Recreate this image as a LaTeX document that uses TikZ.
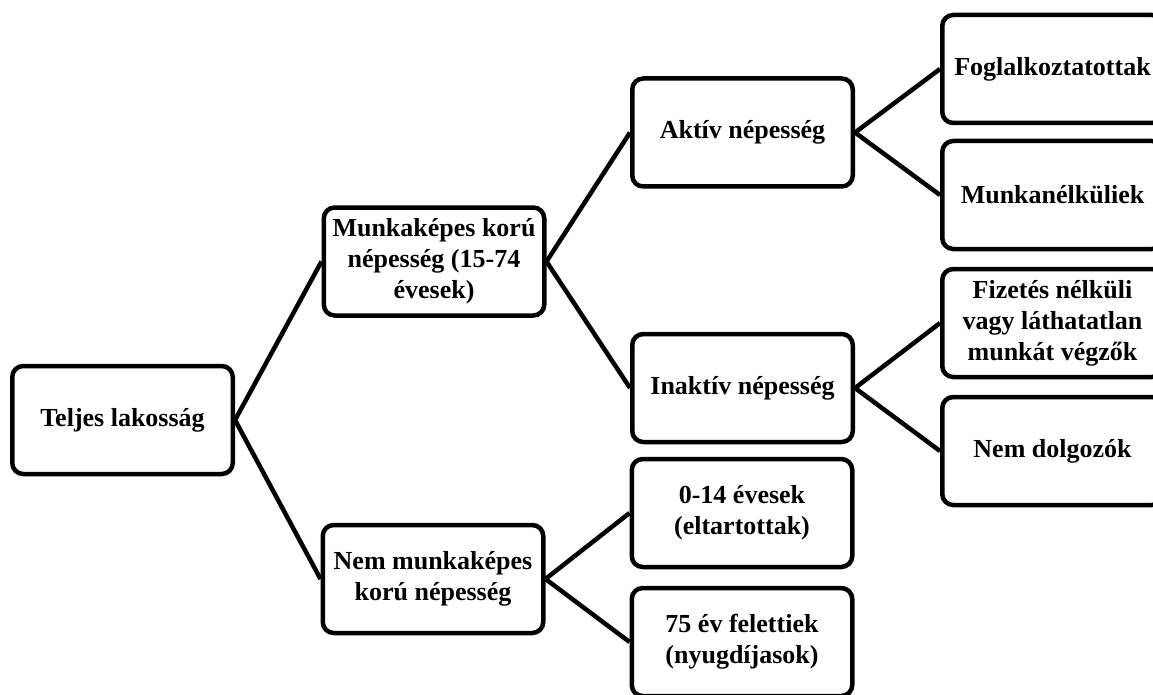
\documentclass[tikz,border=0pt]{standalone}
\usepackage{fontspec}
\setmainfont{Liberation Serif}
\begin{document}
\begin{tikzpicture}[x=1pt,y=-1pt,
  box/.style={draw=black, line width=4.5pt, rounded corners=11pt, fill=white,
    minimum width=220.5pt, minimum height=108pt, inner sep=2pt, align=center,
    font=\fontsize{26}{31}\selectfont\bfseries},
  link/.style={line width=4.5pt}]
\useasboundingbox (0,0) rectangle (1153,695);
\clip (0,0) rectangle (1153,695);
\fill[white] (0,0) rectangle (1153,695);
\node[box] (tel) at (122.5,420) {Teljes lakosság};
\node[box] (mk) at (434,261.5) {Munkaképes korú\\népesség (15-74\\évesek)};
\node[box] (nmk) at (433,579) {Nem munkaképes\\korú népesség};
\node[box] (akt) at (742.5,132.5) {Aktív népesség};
\node[box] (ina) at (742.5,388) {Inaktív népesség};
\node[box] (ev014) at (742,513) {0-14 évesek\\(eltartottak)};
\node[box] (ev75) at (742,642) {75 év felettiek\\(nyugdíjasok)};
\node[box] (fog) at (1052.5,69) {Foglalkoztatottak};
\node[box] (mun) at (1052.5,195) {Munkanélküliek};
\node[box] (fiz) at (1052.5,323) {Fizetés nélküli\\vagy láthatatlan\\munkát végzők};
\node[box] (nem) at (1052.5,451) {Nem dolgozók};
\draw[link] (tel.east) -- (mk.west);
\draw[link] (tel.east) -- (nmk.west);
\draw[link] (mk.east) -- (akt.west);
\draw[link] (mk.east) -- (ina.west);
\draw[link] (nmk.east) -- (ev014.west);
\draw[link] (nmk.east) -- (ev75.west);
\draw[link] (akt.east) -- (fog.west);
\draw[link] (akt.east) -- (mun.west);
\draw[link] (ina.east) -- (fiz.west);
\draw[link] (ina.east) -- (nem.west);
\end{tikzpicture}
\end{document}
